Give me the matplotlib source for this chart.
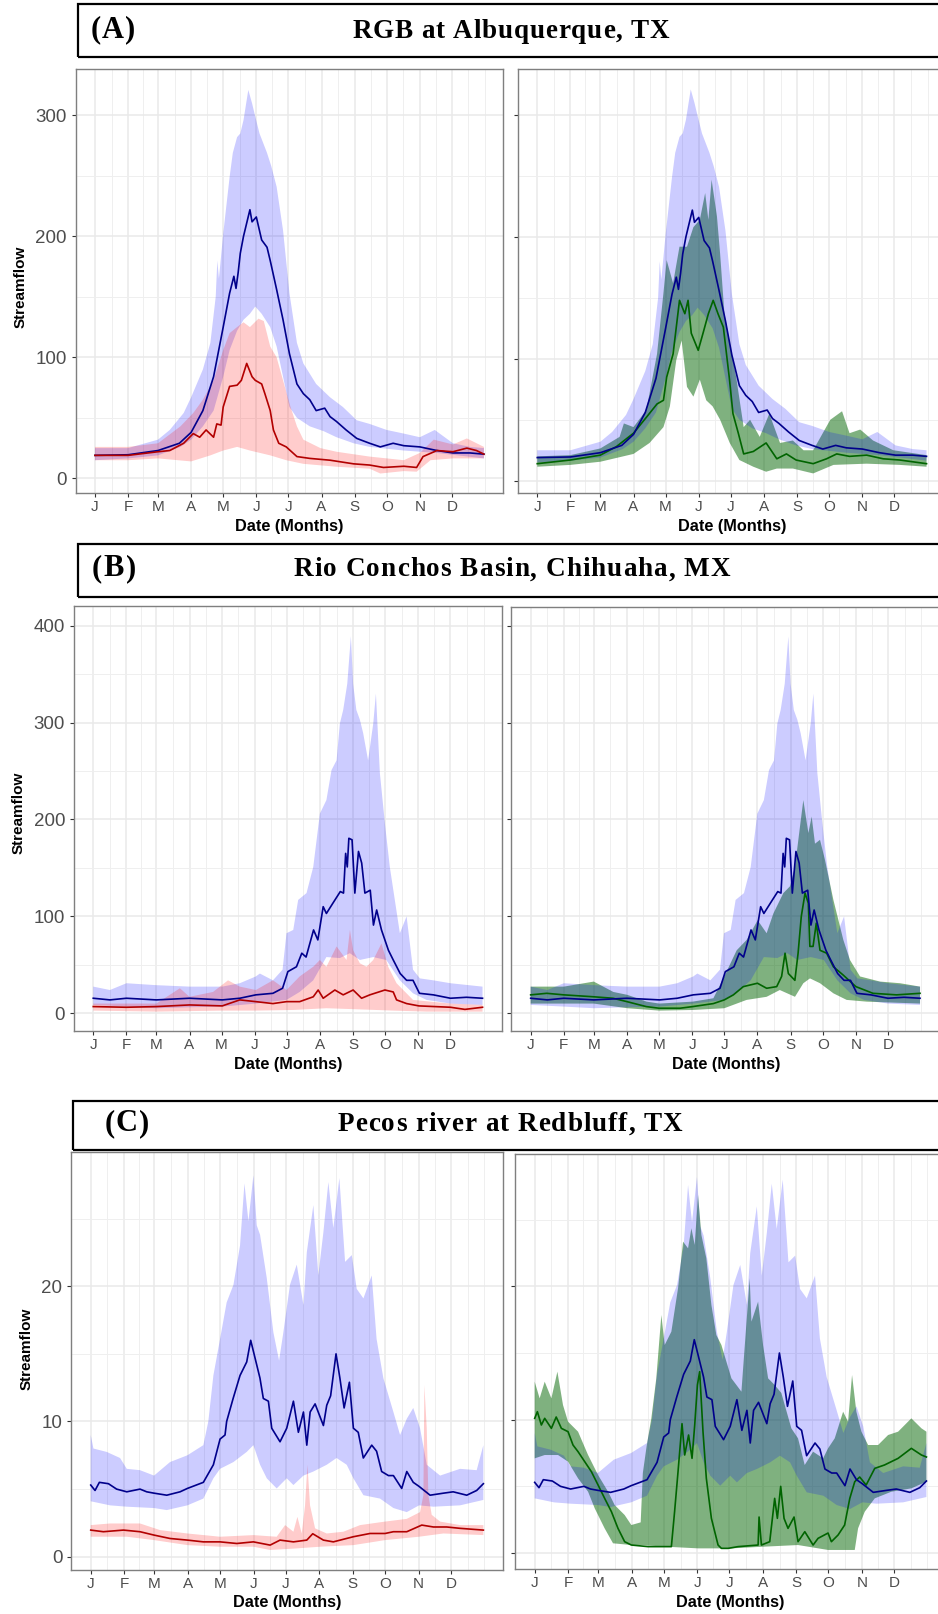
import numpy as np
import matplotlib
matplotlib.use("Agg")
import matplotlib.pyplot as plt
from matplotlib.patches import Rectangle
from matplotlib import font_manager

plt.rcParams['font.family'] = ['Liberation Sans', 'DejaVu Sans']

# ---------------- axis definitions ----------------
MONTH_DAYS = [1, 32, 60, 91, 121, 152, 182, 213, 244, 274, 305, 335]
MONTH_LABELS = ['J', 'F', 'M', 'A', 'M', 'J', 'J', 'A', 'S', 'O', 'N', 'D']
MINOR_DAYS = [16.5, 46, 75.5, 106, 136.5, 167, 197.5, 228.5, 259, 289.5, 320, 350.5, 366]

# ---------------- (A) RGB at Albuquerque ----------------
A_blue_day = [1, 32, 60, 80, 91, 102, 112, 121, 127, 131, 133, 135, 137, 140, 146, 148, 152, 157, 162, 165,
              171, 177, 183, 190, 196, 202, 208, 216, 221, 227, 236, 246, 258, 268, 280, 290, 305, 321, 336, 352, 365]
A_blue = [19, 19.5, 23, 29, 38, 56, 84, 125, 153, 167, 157, 170, 186, 200, 222, 212, 216, 197, 191, 180,
          156, 131, 103, 78, 70, 65, 56, 58, 51, 47, 40, 33, 29, 26, 29, 27, 26, 23, 21, 21, 20]
A_blue_hi_day = [1, 32, 60, 71, 84, 91, 102, 109, 114, 115.5, 117, 121, 127, 130, 134, 137, 140, 144.5, 148, 151,
                 155, 162, 166, 171, 177, 183, 190, 196, 208, 221, 233, 246, 258, 274, 290, 305, 319, 336, 352, 365]
A_blue_hi = [25, 25, 32, 40, 54, 67, 90, 112, 150, 180, 165, 202, 249, 269, 282, 285, 296, 321, 310, 299,
             285, 269, 258, 241, 205, 153, 112, 95, 78, 67, 59, 48, 45, 40, 37, 34, 40, 29, 26, 25]
A_blue_lo_day = [1, 32, 60, 81, 91, 102, 112, 121, 127, 134, 140, 146, 151, 157, 165, 171, 177, 183, 190, 202,
                 215, 227, 243, 258, 290, 321, 365]
A_blue_lo = [15, 16.5, 19, 26, 32, 43, 56, 84, 106, 122, 131, 136, 142, 136, 125, 109, 84, 59, 50, 43,
             39, 34, 29, 26, 23, 21, 16.5]
A_red_day = [1, 32, 60, 71, 84, 93, 99, 105, 112, 115, 119, 121, 127, 134, 138, 143, 148, 151, 157, 160,
             165, 168, 173, 180, 190, 202, 221, 243, 258, 271, 290, 302, 308, 321, 336, 349, 358, 365]
A_red = [19, 19, 22, 23, 29, 37, 34, 40, 34, 45, 44, 59, 76, 77, 81, 95, 84, 81, 78, 70,
         56, 40, 29, 26, 18, 16.5, 15, 12, 11, 9, 10, 9, 18, 23, 22, 25, 23, 20]
A_red_hi_day = [1, 32, 60, 81, 93, 102, 112, 121, 127, 134, 140, 146, 154, 159, 165, 171, 177, 184, 190, 196,
                212, 227, 258, 290, 305, 318, 336, 349, 365]
A_red_hi = [26, 26, 29, 43, 54, 65, 81, 106, 120, 125, 129, 125, 132, 130, 109, 100, 81, 59, 43, 32,
            25, 22, 18, 15, 21, 32, 28, 33, 26]
A_red_lo_day = [1, 32, 60, 91, 109, 121, 134, 146, 165, 180, 196, 227, 258, 268, 290, 302, 315, 336, 365]
A_red_lo = [15, 15, 16.5, 14, 19, 23, 26, 23, 19, 15, 12, 9.6, 8, 4, 6, 5.5, 15, 16.5, 16.5]
A_green_day = [1, 32, 60, 75, 91, 103, 113, 119, 122, 128, 134, 139, 142, 145, 151.5, 156, 161, 165.5, 170, 175,
               180.5, 184, 189, 194, 203, 215, 225, 234, 243, 259, 271.5, 281, 293, 309, 324.5, 340, 365]
A_green = [14, 17, 21, 28, 39, 52, 63, 66, 85, 104, 148, 137, 148, 121, 107, 121, 137, 148, 137, 126,
           85, 55, 39, 22, 24, 31, 18, 22, 17, 14, 18, 22, 20, 21, 18, 17, 14]
A_green_hi_day = [1, 32, 60, 78, 82, 91, 103, 113, 119, 122, 128, 134, 141, 147, 153, 158, 161, 164, 169, 172,
                  176, 181, 187, 194, 200, 209, 218, 228, 240, 250, 259, 275, 286, 293, 303, 315, 334, 365]
A_green_hi = [20, 21, 26.5, 36, 47, 44, 58, 104, 154, 181, 162, 192, 192, 208, 214, 236, 214, 247, 217, 186,
              137, 113, 85, 44, 50, 36, 55, 31, 33, 25, 25, 50, 57, 39, 42, 33, 25, 21]
A_green_lo_day = [1, 32, 60, 91, 106, 119, 125, 131, 136, 141, 147, 153, 159, 165, 172, 181, 190, 203, 215, 225,
                  240, 259, 278, 309, 340, 365]
A_green_lo = [11.5, 13, 15.6, 22, 31, 44, 61, 99, 115, 77, 69, 83, 66, 61, 50, 31, 17, 11.5, 7.4, 10,
              10, 6, 13, 14, 13, 11.5]

# ---------------- (B) Rio Conchos ----------------
B_blue_day = [1, 16.6, 32, 60, 91, 121.6, 138, 153, 169, 178, 183, 191, 196, 200, 207, 211, 216, 219, 225, 232,
              235, 237, 238.5, 240, 243, 245.6, 249, 252, 255, 260, 263, 266, 270.5, 277, 281.5, 288, 294, 300, 306, 319,
              335, 350, 365]
B_blue = [15.5, 13.8, 15.5, 13.8, 15.5, 13.8, 15.5, 19, 20.6, 25.8, 43, 48, 62, 58, 86, 75.7, 110, 103, 113.5, 125.6,
          124, 165, 151, 180.6, 179, 124, 167, 155, 124, 127, 91, 106.6, 86, 65, 55, 41, 34, 34, 20.6, 19,
          15.5, 16.5, 15.5]
B_blue_hi_day = [1, 16.6, 32, 60, 91, 121.6, 138, 153, 156.8, 169, 178, 181.7, 188, 192.6, 200.4, 206.7, 212.9, 219,
                 223.8, 228.5, 231.6, 234.7, 238.5, 241.9, 244, 247, 250.3, 253.4, 258, 262.8, 265.3, 269, 273.7,
                 278.3, 287.7, 294, 300, 306.4, 318.9, 335, 365]
B_blue_hi = [27.5, 24, 31, 29, 27.5, 27.5, 31, 38, 41, 34, 45, 82.6, 86, 117, 124, 151, 206, 220,
             251, 261, 299, 313, 340, 389, 340, 313, 303, 289, 261, 299, 330, 248, 196,
             151, 82.6, 100, 45, 36, 34, 31, 27.5]
B_blue_lo_day = [1, 32, 60, 91, 121.6, 153, 181.7, 194, 206.7, 219, 231.6, 240.9, 250.3, 262.8, 275, 287.7, 300,
                 312.6, 335, 365]
B_blue_lo = [8.6, 6.9, 5.2, 6.2, 6.9, 10, 13.8, 22, 34, 58, 57, 62, 55, 58, 55, 34, 20.6, 13.8, 10, 8.6]
B_red_day = [1, 32, 60, 91, 121.6, 138, 153, 169, 181.7, 194, 206.7, 211.3, 216, 226.9, 234.7, 244, 251.9, 259.6,
             273.7, 281.5, 284.6, 294, 305.5, 335, 348.5, 365]
B_red = [6.9, 6.2, 6.9, 8.6, 7.6, 13.8, 12, 10, 12, 12, 17, 24, 15.5, 24, 19, 24, 15.5, 19,
         24, 22, 13.8, 10, 7.6, 6.2, 4, 6.2]
B_red_hi_day = [1, 60, 82, 91, 113, 127, 138, 153, 169, 181.7, 194, 206.7, 212.9, 219, 228.5, 237.8, 241, 244,
                250.3, 256.5, 262.8, 270.5, 276.8, 284.6, 300, 335, 365]
B_red_hi = [10, 10, 25.8, 17, 22, 34, 27.5, 24, 34, 24, 38, 48, 55, 48, 69, 55, 86, 65,
            51.6, 48, 55, 72, 48, 31, 13.8, 10, 8.6]
B_red_lo_day = [1, 60, 121.6, 153, 188, 219, 250.3, 281.5, 312.6, 365]
B_red_lo = [2.75, 1.7, 2.75, 2.75, 3.4, 5.2, 4, 2.75, 1.7, 1.7]
B_green_day = [1, 16, 32, 60, 78, 91, 109, 121, 140.6, 152.5, 171.8, 182, 190.5, 199.8, 213, 221.6, 231, 235.6,
               238.8, 241.9, 248, 251, 254, 257.5, 260.6, 262, 265, 268, 271.5, 277.7, 284, 293, 305, 321, 343, 365]
B_green = [19, 20.6, 19, 17, 15.5, 12, 6.9, 5.2, 5.2, 6.9, 10, 13.8, 19, 27.5, 31, 25.8, 27.5, 38,
           62, 41, 34, 62, 100, 124, 113.5, 69, 69, 93, 65, 62, 48, 39.6, 27.5, 20.6, 19, 20.6]
B_green_hi_day = [1, 32, 60, 78.3, 91.4, 109.4, 121.3, 152.5, 171.8, 182, 193.6, 202.9, 213.2, 221.6, 227.9, 237.2,
                  243.4, 248.1, 252.8, 255.9, 260.6, 263.7, 266.8, 271.5, 276.2, 284, 293.3, 299.5, 308.9, 327.6,
                  346.3, 365]
B_green_hi = [27.5, 27.5, 32.7, 22, 19, 12, 10, 12, 15.5, 38, 65, 75.7, 96, 82.6, 103, 124,
              131, 151, 193, 220, 186, 203, 175, 179, 158, 117, 75.7, 55, 38, 32.7, 31, 27.5]
B_green_lo_day = [1, 32, 60, 91.4, 121.3, 152.5, 182, 202.9, 221.6, 233.9, 248.1, 255.9, 262.1, 271.5, 284, 296.4,
                  315.1, 365]
B_green_lo = [10, 10, 10, 5.2, 2.75, 3.4, 5.2, 13.8, 17, 24, 17, 31, 36, 31, 20.6, 13.8, 12, 10]

# ---------------- (C) Pecos river ----------------
C_blue_day = [1, 5, 9, 17.4, 25, 34.4, 46.7, 52.9, 59.7, 71.5, 83.8, 90.6, 105.4, 114.7, 120.9, 125.5, 127, 133,
              139.4, 145.6, 149.3, 153.3, 157.9, 161, 165.7, 168.8, 176.5, 182.7, 188.9, 193.5, 198.2, 201.3, 204.4,
              209, 216.7, 219.8, 223.4, 228.4, 232, 235.9, 240.8, 244.5, 249, 253.7, 261.5, 266, 270.7, 277, 281.6,
              289.3, 294, 300, 305.4, 315.6, 328, 337, 349.6, 358.8, 365]
C_blue = [5.3, 4.9, 5.5, 5.4, 5.0, 4.8, 5.0, 4.8, 4.7, 4.55, 4.8, 5.05, 5.5, 6.8, 8.7, 9.0, 10.0, 11.7,
          13.4, 14.4, 16.0, 14.7, 13.2, 11.7, 11.5, 9.5, 8.5, 9.5, 11.5, 9.2, 10.7, 8.25, 10.7,
          11.3, 9.7, 11.2, 11.9, 15.0, 13.2, 11.0, 12.9, 9.5, 9.2, 7.3, 8.25, 7.8, 6.3, 6.0, 6.0,
          5.05, 6.3, 5.5, 5.2, 4.55, 4.7, 4.8, 4.55, 4.9, 5.4]
C_blue_hi_day = [1, 3.5, 15.8, 28.2, 34.4, 46.7, 59.7, 74.5, 90.6, 105.4, 110, 114.7, 120.9, 127, 133.3, 139.4,
                 143.5, 147.2, 151.8, 154.9, 158, 164.2, 170.3, 175.6, 179.6, 185.7, 192, 198.2, 201.3, 207.4, 212,
                 216.7, 221.3, 225.9, 231.5, 236.8, 243, 247.6, 253.8, 261.5, 266, 272.3, 281.6, 287.8, 294, 300,
                 306.3, 312.5, 324.9, 343.4, 358.8, 365]
C_blue_hi = [9.0, 8.0, 7.75, 7.3, 6.5, 6.4, 6.0, 7.0, 7.5, 8.25, 10.0, 13.4, 16.1, 18.8, 20.1, 23.0,
             27.6, 24.8, 28.2, 24.5, 23.8, 20.6, 16.6, 14.5, 16.6, 20.1, 21.6, 18.6, 22.5, 26.0, 20.8,
             24.0, 27.7, 24.3, 28.0, 21.8, 22.3, 19.8, 19.1, 20.8, 16.1, 13.2, 10.7, 9.0, 10.2, 11.0,
             9.5, 6.8, 6.0, 6.5, 6.4, 8.25]
C_blue_lo_day = [1, 18.9, 34.4, 59.7, 71.5, 90.6, 105.4, 114.7, 120.9, 133.3, 145.6, 151.8, 158, 164.2, 173.4,
                 182.7, 188.9, 198.2, 207.4, 219.8, 228.9, 238.3, 244.5, 253.8, 269.2, 281.6, 294, 305.4, 318.7,
                 343.4, 365]
C_blue_lo = [4.1, 3.8, 3.7, 3.6, 3.45, 3.8, 4.3, 5.8, 6.5, 7.0, 7.75, 8.25, 6.8, 5.8, 5.05,
             5.8, 5.3, 6.0, 6.3, 6.8, 7.3, 6.8, 5.8, 4.55, 4.3, 3.6, 3.3, 3.8, 3.7, 3.8, 4.2]
C_red_day = [1, 12.7, 31.3, 46.7, 59.7, 74.5, 90.6, 105.4, 120.9, 136.4, 151.8, 167.3, 176.5, 188.9, 201.3, 206.8,
             216.7, 225.9, 244.5, 259.9, 273.9, 281.6, 294, 307.9, 318.7, 331, 343.4, 365]
C_red = [1.97, 1.85, 1.97, 1.85, 1.6, 1.35, 1.23, 1.1, 1.1, 0.98, 1.1, 0.86, 1.23, 1.1, 1.23, 1.7,
         1.23, 1.1, 1.48, 1.72, 1.72, 1.85, 1.85, 2.34, 2.2, 2.2, 2.1, 1.97]
C_red_hi_day = [1, 18.9, 46.7, 65.3, 90.6, 120.9, 151.8, 173.4, 181.2, 188.9, 192.6, 196.6, 199.7, 201.9, 204.3,
                209, 219.8, 235.2, 250.7, 273.9, 294, 306.3, 309.4, 310.3, 312.5, 314, 317.1, 324.9, 343.4, 365]
C_red_hi = [2.34, 2.46, 2.46, 1.97, 1.72, 1.48, 1.6, 1.48, 2.34, 1.85, 2.95, 1.72, 3.8, 6.8, 3.8,
            2.1, 1.72, 1.85, 2.34, 2.6, 2.8, 3.3, 4.55, 12.7, 9.5, 4.55, 3.1, 2.6, 2.34, 2.34]
C_red_lo_day = [1, 34.4, 59.7, 90.6, 120.9, 151.8, 167.3, 188.9, 213.6, 244.5, 273.9, 305.4, 328, 365]
C_red_lo = [1.48, 1.48, 1.23, 0.86, 0.74, 0.74, 0.5, 0.6, 0.74, 0.86, 1.23, 1.48, 1.72, 1.6]
C_green_day = [1, 3.5, 7.2, 10.3, 16.5, 21, 25.8, 32, 36.6, 41.3, 47.5, 53.7, 59.9, 66, 72.3, 78.4, 84.6, 90.8,
               106.3, 128, 131, 134.2, 137.9, 140.4, 144, 147.2, 149.7, 152.2, 154.3, 157.4, 160.5, 165.2, 171.4,
               174.5, 180.7, 190, 208.6, 209.5, 211.7, 219.4, 224, 226.5, 229.6, 232.7, 236.4, 242, 245.7, 252,
               259.7, 264.3, 273.6, 276.7, 282.9, 289, 293.8, 298.4, 303, 309, 317, 326, 338.7, 351, 360.4, 365]
C_green = [10.1, 10.6, 9.6, 10.1, 9.35, 10.2, 9.35, 9.1, 8.1, 7.6, 6.85, 6.1, 5.1, 4.1, 3.1, 1.85, 0.85, 0.6,
           0.48, 0.48, 3.1, 6.1, 9.7, 7.35, 8.85, 7.1, 9.6, 12.6, 13.6, 9.1, 5.6, 2.6, 0.6,
           0.35, 0.35, 0.48, 0.6, 2.7, 0.6, 0.85, 4.1, 2.6, 5.0, 2.6, 1.85, 2.7, 0.85, 1.6,
           0.6, 1.1, 1.5, 0.85, 1.35, 2.1, 4.1, 5.35, 5.7, 5.1, 6.35, 6.6, 7.1, 7.85, 7.35, 7.2]
C_green_hi_day = [1, 5.6, 10.3, 16.5, 22.1, 27.3, 32, 41.3, 50.6, 59.9, 69.2, 75.3, 84.6, 90.8, 99.5, 101.5, 105,
                  109.4, 114, 118.7, 121.8, 128, 134.2, 138.9, 143.5, 146.6, 149.7, 152.8, 155.9, 160.5, 165.2,
                  169.8, 174.5, 183.8, 193.1, 200.8, 202.4, 208.6, 213.2, 217.9, 224, 230.2, 239.5, 245.7, 251.9,
                  259.7, 269, 273.6, 279.8, 287.6, 292.2, 295.9, 299.9, 304.6, 310.8, 320.1, 329.4, 338.7, 351,
                  360.4, 365]
C_green_hi = [12.85, 11.6, 12.85, 11.6, 13.6, 11.1, 9.85, 9.1, 7.35, 5.85, 4.6, 3.6, 2.85, 2.1, 2.3, 6.0, 8.0,
              10.1, 13.1, 17.85, 15.6, 16.6, 19.85, 23.35, 22.85, 24.35, 23.1, 26.85, 23.85, 22.1, 18.6,
              16.35, 15.6, 13.1, 12.1, 20.6, 17.35, 18.85, 15.6, 13.1, 12.6, 12.0, 9.35, 8.6, 6.6,
              7.6, 7.1, 7.85, 8.6, 10.6, 9.85, 13.35, 10.6, 9.1, 8.1, 8.1, 8.85, 9.1, 10.1,
              9.35, 9.1]
C_green_lo_day = [1, 10.3, 22.7, 32, 41.3, 50.6, 56.8, 66, 73.8, 90.8, 100.1, 121.8, 152.8, 183.8, 214.8, 245.7,
                  273.6, 298.4, 301.5, 307.7, 317, 332.5, 351, 365]
C_green_lo = [7.1, 7.35, 7.35, 6.85, 5.6, 4.6, 3.35, 1.85, 0.73, 0.6, 0.6, 0.48, 0.35, 0.35, 0.48, 0.6,
              0.23, 0.23, 1.85, 3.1, 4.1, 4.6, 4.85, 5.35]

# ---------------- styles ----------------
BLUE_FILL, BLUE_LINE = '#0000ff', '#00008b'
RED_FILL, RED_LINE = '#ff0000', '#b20000'
GREEN_FILL, GREEN_LINE = '#006400', '#006400'

W, H = 938, 1614
fig = plt.figure(figsize=(W / 100, H / 100), dpi=100)


def px_rect(x0, y0, x1, y1):
    return [x0 / W, 1 - y1 / H, (x1 - x0) / W, (y1 - y0) / H]


def ribbon(ax, dh, vh, dl, vl, color, alpha, z):
    xs = np.concatenate([np.asarray(dh, float), np.asarray(dl, float)[::-1]])
    ys = np.concatenate([np.asarray(vh, float), np.asarray(vl, float)[::-1]])
    ax.fill(xs, ys, color=color, alpha=alpha, lw=0, zorder=z)


def panel(rect, ylim, ymajor, yminor, show_labels):
    ax = fig.add_axes(px_rect(*rect))
    ax.set_xlim(-17.2, 383.2)
    ax.set_ylim(*ylim)
    for d in MINOR_DAYS:
        ax.axvline(d, color='#efefef', lw=0.7, zorder=0)
    for d in MONTH_DAYS:
        ax.axvline(d, color='#e9e9e9', lw=1.1, zorder=0)
    for v in yminor:
        ax.axhline(v, color='#efefef', lw=0.7, zorder=0)
    for v in ymajor:
        ax.axhline(v, color='#e9e9e9', lw=1.1, zorder=0)
    ax.set_xticks(MONTH_DAYS)
    ax.set_xticklabels(MONTH_LABELS)
    ax.set_yticks(ymajor)
    if show_labels:
        ax.set_yticklabels([str(v) for v in ymajor])
    else:
        ax.set_yticklabels([])
    ax.tick_params(axis='both', length=3, width=0.8, color='#333333')
    ax.tick_params(axis='x', labelsize=11, labelcolor='#4d4d4d', pad=1.8)
    ax.tick_params(axis='y', labelsize=13.5, labelcolor='#4d4d4d', pad=3.2)
    for s in ax.spines.values():
        s.set_color('#7f7f7f')
        s.set_linewidth(1.0)
    return ax


def left_panel(rect, ylim, ymajor, yminor, blue, red):
    ax = panel(rect, ylim, ymajor, yminor, True)
    ribbon(ax, blue[2], blue[3], blue[4], blue[5], BLUE_FILL, 0.2, 1)
    ribbon(ax, red[2], red[3], red[4], red[5], RED_FILL, 0.2, 1.1)
    ax.plot(blue[0], blue[1], color=BLUE_LINE, lw=1.2, zorder=3)
    ax.plot(red[0], red[1], color=RED_LINE, lw=1.2, zorder=3.1)
    return ax


def right_panel(rect, ylim, ymajor, yminor, blue, green):
    ax = panel(rect, ylim, ymajor, yminor, False)
    ribbon(ax, green[2], green[3], green[4], green[5], GREEN_FILL, 0.5, 1)
    ribbon(ax, blue[2], blue[3], blue[4], blue[5], BLUE_FILL, 0.2, 1.1)
    ax.plot(green[0], green[1], color=GREEN_LINE, lw=1.2, zorder=3)
    ax.plot(blue[0], blue[1], color=BLUE_LINE, lw=1.2, zorder=3.1)
    return ax


A_B = (A_blue_day, A_blue, A_blue_hi_day, A_blue_hi, A_blue_lo_day, A_blue_lo)
A_R = (A_red_day, A_red, A_red_hi_day, A_red_hi, A_red_lo_day, A_red_lo)
A_G = (A_green_day, A_green, A_green_hi_day, A_green_hi, A_green_lo_day, A_green_lo)
B_B = (B_blue_day, B_blue, B_blue_hi_day, B_blue_hi, B_blue_lo_day, B_blue_lo)
B_R = (B_red_day, B_red, B_red_hi_day, B_red_hi, B_red_lo_day, B_red_lo)
B_G = (B_green_day, B_green, B_green_hi_day, B_green_hi, B_green_lo_day, B_green_lo)
C_B = (C_blue_day, C_blue, C_blue_hi_day, C_blue_hi, C_blue_lo_day, C_blue_lo)
C_R = (C_red_day, C_red, C_red_hi_day, C_red_hi, C_red_lo_day, C_red_lo)
C_G = (C_green_day, C_green, C_green_hi_day, C_green_hi, C_green_lo_day, C_green_lo)

left_panel((75.5, 69, 503.4, 493), (-12.1, 338.3), [0, 100, 200, 300], [50, 150, 250], A_B, A_R)
right_panel((517.8, 69.3, 946, 493.3), (-10.3, 337.5), [0, 100, 200, 300], [50, 150, 250], A_B, A_G)
left_panel((73.8, 606, 502, 1031), (-18.3, 420.3), [0, 100, 200, 300, 400], [50, 150, 250, 350], B_B, B_R)
right_panel((511.2, 606.7, 939.5, 1031), (-18.3, 419.6), [0, 100, 200, 300, 400], [50, 150, 250, 350], B_B, B_G)
left_panel((71.1, 1152.3, 503, 1570), (-0.98, 29.9), [0, 10, 20], [5, 15, 25], C_B, C_R)
right_panel((515.1, 1154.3, 946, 1569.3), (-1.22, 29.9), [0, 10, 20], [5, 15, 25], C_B, C_G)

# ---------------- axis titles ----------------
for (x, y) in [(21, 287), (19, 813), (27, 1349)]:
    fig.text(x / W, 1 - y / H, 'Streamflow', rotation=90, ha='center', va='center',
             fontsize=11, fontweight='bold', color='black')
for (x, y) in [(289.5, 527), (732, 527), (288, 1064), (726, 1064), (287, 1603), (730, 1602)]:
    fig.text(x / W, 1 - y / H, 'Date (Months)', ha='center', va='center',
             fontsize=11.7, fontweight='bold', color='black')

# ---------------- header boxes ----------------
SERIF_PATH = font_manager.findfont(font_manager.FontProperties(family='Liberation Serif', weight='bold'))


def advances(s, size):
    try:
        from matplotlib.ft2font import FT2Font
        f = FT2Font(SERIF_PATH)
        f.set_size(size, 100)
        out = []
        for c in s:
            g = f.load_char(ord(c))
            out.append(g.linearHoriAdvance / 65536.0)
        return out
    except Exception:
        return [size * 100 / 72 * 0.5 for _ in s]


def spaced_text(x_px, base_px, s, size, target_w=None, spacing=0.0, center=False):
    adv = advances(s, size)
    nat = sum(adv)
    if target_w is not None and len(s) > 1:
        spacing = (target_w - nat) / (len(s) - 1)
    total = nat + spacing * (len(s) - 1)
    x = x_px - total / 2 if center else x_px
    for c, a in zip(s, adv):
        if c != ' ':
            fig.text(x / W, 1 - base_px / H, c, fontsize=size, family='Liberation Serif',
                     fontweight='bold', ha='left', va='baseline', color='black')
        x += a + spacing


headers = [
    ((78, 4, 950, 57), '(A)', 91, 'RGB at Albuquerque, TX', 511, 317, 37.5),
    ((78, 544, 950, 597), '(B)', 92, 'Rio Conchos Basin, Chihuaha, MX', 512, 436, 576.5),
    ((73, 1101, 950, 1150), '(C)', 105, 'Pecos river at Redbluff, TX', 510, 345, 1131),
]
for (bx0, by0, bx1, by1), lab, lx, title, tcx, tw, base in headers:
    fig.add_artist(Rectangle((bx0 / W, 1 - by1 / H), (bx1 - bx0) / W, (by1 - by0) / H,
                             transform=fig.transFigure, fill=False, ec='black', lw=1.6))
    spaced_text(lx, base, lab, 22, target_w=44)
    spaced_text(tcx, base, title, 19.5, target_w=tw, center=True)

fig.savefig('out.png', dpi=100)
